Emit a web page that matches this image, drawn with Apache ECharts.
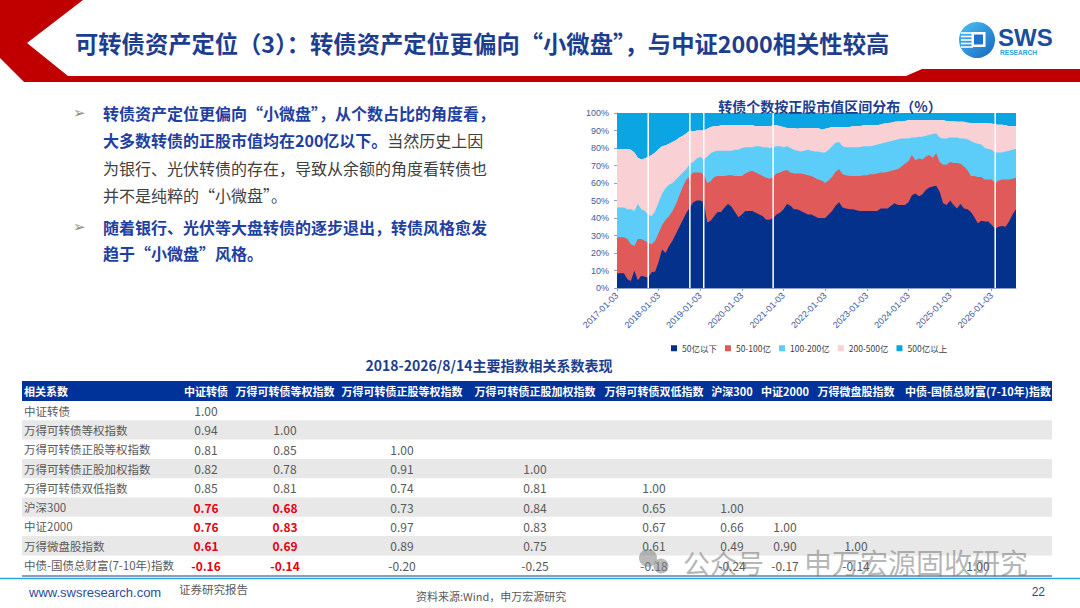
<!DOCTYPE html>
<html><head><meta charset="utf-8">
<script src="https://cdn.jsdelivr.net/npm/echarts@6/dist/echarts.min.js"></script>
<style>html,body{margin:0;padding:0;background:#fff;}#c{width:1080px;height:608px;}</style>
</head><body><div id="c"></div>
<script>
// ---------- chart data ----------
const dates = [
'2017-01-03','2017-02-03','2017-03-03','2017-04-03','2017-05-03','2017-06-03','2017-07-03','2017-08-03','2017-09-03','2017-10-03','2017-11-03','2017-12-03',
'2018-01-03','2018-02-03','2018-03-03','2018-04-03','2018-05-03','2018-06-03','2018-07-03','2018-08-03','2018-09-03','2018-10-03','2018-11-03','2018-12-03',
'2019-01-03','2019-02-03','2019-03-03','2019-04-03','2019-05-03','2019-06-03','2019-07-03','2019-08-03','2019-09-03','2019-10-03','2019-11-03','2019-12-03',
'2020-01-03','2020-02-03','2020-03-03','2020-04-03','2020-05-03','2020-06-03','2020-07-03','2020-08-03','2020-09-03','2020-10-03','2020-11-03','2020-12-03',
'2021-01-03','2021-02-03','2021-03-03','2021-04-03','2021-05-03','2021-06-03','2021-07-03','2021-08-03','2021-09-03','2021-10-03','2021-11-03','2021-12-03',
'2022-01-03','2022-02-03','2022-03-03','2022-04-03','2022-05-03','2022-06-03','2022-07-03','2022-08-03','2022-09-03','2022-10-03','2022-11-03','2022-12-03',
'2023-01-03','2023-02-03','2023-03-03','2023-04-03','2023-05-03','2023-06-03','2023-07-03','2023-08-03','2023-09-03','2023-10-03','2023-11-03','2023-12-03',
'2024-01-03','2024-02-03','2024-03-03','2024-04-03','2024-05-03','2024-06-03','2024-07-03','2024-08-03','2024-09-03','2024-10-03','2024-11-03','2024-12-03',
'2025-01-03','2025-02-03','2025-03-03','2025-04-03','2025-05-03','2025-06-03','2025-07-03','2025-08-03','2025-09-03','2025-10-03','2025-11-03','2025-12-03',
'2026-01-03','2026-02-03','2026-03-03','2026-04-03','2026-05-03','2026-06-03','2026-07-03','2026-08-14'];

// cumulative share (%) at the top of each band
const cumBelow50 = [8.5,8.5,8.5,5,4,10,4.5,7,6.5,6,9,9.5,
15,22,20,24,27,31,35,39,43,46,49,50,
50,49,37.5,38.5,41,43.5,43.5,46,48,46.5,43.5,40.5,
42,44,44,44,43,42,41,39,39,40,42,43,
45,48,47,45,45,44,43,42,42,41,40,40,
40,42,44,47,49,46,45.5,45,45,44.5,44,44,
44,44,44,44,45.5,45.5,45.5,47,48.5,47.5,47.5,47.5,
49,53,54,52.5,53.5,56,57.5,58,58.5,55,48.5,47.5,
50,47.5,45.5,48,45.5,45,43.5,40.5,37,38.5,38,38,
36,34,35,35.5,35,38,42,45];
const cumBelow100 = [29,29,29,28,25,24,28,28,27,26,25,27,
31.5,36,39,41,44,48,53,58,62,64,66,66,
66,65,60,61,63.5,64,64,64,64.5,64.5,64,64,
64,65.5,66.5,67,66,65,64,63,62.5,63.5,65.5,66,
67,67.5,66,65.5,65.5,65.5,65,64.5,64,63,62,61.5,
60,61.5,63.5,66.5,68,65,64.5,64,64,64,64,64.5,
64.5,65,65,65.5,66,66,66.5,67,67.5,68,69.5,71,
72.5,76,73,74,73.5,75,76,74.5,77,72,70.5,70.5,
72,71.5,71.5,71,69.5,67.5,64,64,63.5,63.5,62,62,
62,60,61.5,62,62,62,62.5,63];
const cumBelow200 = [46,46,46,45,45,44,48,45,44,42,41,44,
49,54,57,59,60,62,64,66,68,71,72,74,
75,73.5,75,77,78,78.5,78.5,78.5,78.5,78.5,79,79,
80,80.5,80.5,80.5,81,81,80.5,80.5,80,80.5,81,81,
80.5,81,80,79,78.5,78,78.5,79,78.5,78,78,77.5,
77.5,79,81,83,83.5,81,80.5,80.5,80.5,80.5,80.5,81,
81,81,81.5,82,82.5,83,83.5,84,84.5,85,85.5,85.5,
85.5,86,86,86.5,86.5,87,87.5,88,88.5,86,85.5,85.5,
86,86,86,85.5,85.5,85,84,83,82.5,82,80,79.5,
79,77.5,77.5,77.5,78,78.5,79,79.5];
const cumBelow500 = [79.5,79.5,79.5,79.5,79,77.5,74.5,73.5,74,75,76,77.5,
79.5,81,81.5,82.5,83.5,84.5,86,87,88.5,90,89.5,90,
90,90,91,92,92.5,92.5,93,93,93,93,93,93,
93,93,93,93,92.5,92.5,92.5,92.5,92.5,93,93,92.5,
92,91.5,91.5,91.5,91,91.5,91.5,91.5,91.5,91.5,91.5,90.5,
91,91.5,92,92,92,92,92,92,92.5,92.5,92.5,93,
93,93,93,93,93.5,94,94.3,94.5,95,95.2,95.2,95.5,
95.8,96,96,96,96,96,96,96,96,96,95.8,95.5,
95.2,95.2,95,95,95,94.5,94.3,94.3,94.3,94.3,94.3,94,
94,93.5,93.3,93.3,93,92.5,92.5,92.5];
const bandNames = ['50亿以下','50-100亿','100-200亿','200-500亿','500亿以上'];
const gapDates = ['2017-10-03','2018-10-03','2019-02-03','2020-10-03','2026-02-03'];

// ---------- table data ----------
const tableColumns = ['中证转债','万得可转债等权指数','万得可转债正股等权指数','万得可转债正股加权指数','万得可转债双低指数','沪深300','中证2000','万得微盘股指数','中债-国债总财富(7-10年)指数'];
const tableRows = ['中证转债','万得可转债等权指数','万得可转债正股等权指数','万得可转债正股加权指数','万得可转债双低指数','沪深300','中证2000','万得微盘股指数','中债-国债总财富(7-10年)指数'];
const corrValues = [
  [1.00],
  [0.94,1.00],
  [0.81,0.85,1.00],
  [0.82,0.78,0.91,1.00],
  [0.85,0.81,0.74,0.81,1.00],
  [0.76,0.68,0.73,0.84,0.65,1.00],
  [0.76,0.83,0.97,0.83,0.67,0.66,1.00],
  [0.61,0.69,0.89,0.75,0.61,0.49,0.90,1.00],
  [-0.16,-0.14,-0.20,-0.25,-0.18,-0.24,-0.17,-0.14,1.00]
];
const highlightCells = [[5,0],[5,1],[6,0],[6,1],[7,0],[7,1],[8,0],[8,1]];

// ---------- build ----------
const CJK = '"Noto Sans CJK SC","Noto Sans",sans-serif';
const NAVY = '#1D3E8E';
function T(x, y, text, s) {
  return {type:'text', x:x, y:y, silent:true, z:10,
    style:Object.assign({text:text, fill:'#404040', fontSize:12, fontFamily:CJK,
      textAlign:'left', textVerticalAlign:'middle', align:'left', verticalAlign:'middle'}, s||{})};
}
function R(x, y, w, h, fill, z) {
  return {type:'rect', silent:true, z:z||1, shape:{x:x,y:y,width:w,height:h}, style:{fill:fill}};
}
function L(x1,y1,x2,y2,stroke,w) {
  return {type:'line', silent:true, z:2, shape:{x1:x1,y1:y1,x2:x2,y2:y2}, style:{stroke:stroke,lineWidth:w}};
}
const g = [];
// header red band
g.push({type:'polygon', silent:true, z:1, shape:{points:[[0,0],[83,0],[27,43],[68,76],[906,76],[922,69],[1080,69],[1080,82],[24,82],[0,58]]}, style:{fill:'#C00000'}});
g.push(T(75, 43, '可转债资产定位（3）：转债资产定位更偏向“小微盘”，与中证2000相关性较高', {fill:NAVY, fontSize:23.3, fontWeight:'bold'}));
// logo
g.push({type:'circle', silent:true, z:2, shape:{cx:977, cy:40, r:18}, style:{fill:{type:'linear',x:0,y:0,x2:1,y2:1,colorStops:[{offset:0,color:'#4CC3F5'},{offset:1,color:'#1565C0'}]}}});
[33,36.5,40,43.5,47].forEach(function(yy){ g.push(L(961, yy, 973, yy, '#ffffff', 1.6)); });
g.push(R(971.5, 32, 14, 15, '#ffffff', 3));
g.push(R(974, 34.5, 9, 10, '#1E74CC', 4));
g.push(T(998, 37, 'SWS', {fill:'#1B4DA0', fontSize:24, fontWeight:'bold', fontFamily:'"Liberation Sans",Arial,sans-serif'}));
g.push(T(1000, 52.5, 'RESEARCH', {fill:'#29A3DC', fontSize:6.6, fontWeight:'bold', fontFamily:'"Liberation Sans",Arial,sans-serif'}));

// bullets
const BLUE_T = '#1E40A0';
g.push(T(73, 113, '➢', {fill:'#8C8C8C', fontSize:15, fontFamily:'"DejaVu Sans",sans-serif'}));
g.push(T(73, 227, '➢', {fill:'#8C8C8C', fontSize:15, fontFamily:'"DejaVu Sans",sans-serif'}));
g.push(T(103, 113, '转债资产定位更偏向“小微盘”，从个数占比的角度看，', {fill:BLUE_T, fontSize:16, fontWeight:'bold'}));
g.push({type:'text', x:103, y:140, silent:true, z:10, style:{text:'{b|大多数转债的正股市值均在200亿以下。}{n|当然历史上因}', textVerticalAlign:'middle', verticalAlign:'middle', fontFamily:CJK, fontSize:16,
  rich:{b:{fill:BLUE_T, color:BLUE_T, fontSize:16, fontWeight:'bold', fontFamily:CJK}, n:{fill:'#404040', color:'#404040', fontSize:16, fontFamily:CJK}}}});
g.push(T(103, 168, '为银行、光伏转债的存在，导致从余额的角度看转债也', {fill:'#404040', fontSize:16}));
g.push(T(103, 195, '并不是纯粹的“小微盘”。', {fill:'#404040', fontSize:16}));
g.push(T(103, 227, '随着银行、光伏等大盘转债的逐步退出，转债风格愈发', {fill:BLUE_T, fontSize:16, fontWeight:'bold'}));
g.push(T(103, 253, '趋于“小微盘”风格。', {fill:BLUE_T, fontSize:16, fontWeight:'bold'}));

// table
g.push(T(489, 365, '2018-2026/8/14主要指数相关系数表现', {fill:NAVY, fontSize:14, fontWeight:'bold', textAlign:'center', align:'center'}));
const colX = [206, 285, 402, 535, 654, 732, 785, 856, 978];
const tX = 22, tW = 1030, headY = 381, headH = 20, rowH = 19.3;
g.push(R(tX, headY, tW, headH, '#003399', 1));
g.push(T(24, headY + headH/2, '相关系数', {fill:'#ffffff', fontSize:11, fontWeight:'bold'}));
tableColumns.forEach(function(c, j){
  g.push(T(colX[j], headY + headH/2, c, {fill:'#ffffff', fontSize:11, fontWeight:'bold', textAlign:'center', align:'center'}));
});
const isHi = {};
highlightCells.forEach(function(p){ isHi[p[0]+'_'+p[1]] = true; });
tableRows.forEach(function(r, i){
  const y0 = headY + headH + i*rowH;
  if (i % 2 === 1) g.push(R(tX, y0, tW, rowH, '#E8E8E8', 1));
  g.push(T(24, y0 + rowH/2, r, {fill:'#595959', fontSize:11.5}));
  corrValues[i].forEach(function(v, j){
    const hi = isHi[i+'_'+j];
    g.push(T(colX[j], y0 + rowH/2, v.toFixed(2), {fill: hi ? '#E60012' : '#595959', fontSize:12, fontWeight: hi ? 'bold' : 'normal', textAlign:'center', align:'center'}));
  });
});
// bottom lines
g.push(L(22, 576, 1052, 576, '#1F3C88', 1.2));
g.push(L(0, 578.5, 1080, 578.5, '#2AA7DF', 1.5));
// watermark
g.push({type:'circle', silent:true, z:11, shape:{cx:648, cy:558, r:9}, style:{fill:'rgba(130,130,130,0.55)'}});
g.push({type:'circle', silent:true, z:11, shape:{cx:661, cy:566, r:7.5}, style:{fill:'rgba(130,130,130,0.55)'}});
g.push(T(683, 562, '公众号', {fill:'rgba(110,110,110,0.5)', fontSize:27}));
g.push(T(804, 562, '申万宏源固收研究', {fill:'rgba(110,110,110,0.5)', fontSize:28}));
// footer
g.push(T(29, 592, 'www.swsresearch.com', {fill:'#1F4E9A', fontSize:13, fontFamily:'"Liberation Sans",Arial,sans-serif'}));
g.push(T(179, 589, '证券研究报告', {fill:'#595959', fontSize:11.5}));
g.push(T(416, 596, '资料来源:Wind，申万宏源研究', {fill:'#595959', fontSize:11}));
g.push(T(1045, 592, '22', {fill:'#1F4E9A', fontSize:12, textAlign:'right', align:'right', fontFamily:'"Liberation Sans",Arial,sans-serif'}));

const colors = ['#03318C','#E05A5A','#5CCDF8','#F9D0D4','#0AA5E2'];
const cumArrays = [cumBelow50, cumBelow100, cumBelow200, cumBelow500, cumBelow500];
const series = bandNames.map(function(n, k){
  return {name:n, type:'line', data:cumArrays[k], symbol:'none', showSymbol:false,
    z: 10 - k, lineStyle:{width:0, opacity:0}, itemStyle:{color:colors[k]},
    areaStyle:{color:colors[k], opacity:1, origin: k === 4 ? 'end' : 'start'}, silent:true};
});
// white holiday gaps in the daily series, drawn as thin full-height bars
series.push({name:'gaps', type:'bar', z:20, silent:true, barWidth:1.5,
  itemStyle:{color:'#ffffff'},
  data: dates.map(function(d){ return gapDates.indexOf(d) >= 0 ? 100 : null; })});
const axisColor = '#3F5A9A';
const yearTick = function(i, v){ return v.slice(5) === '01-03'; };
const option = {
  animation:false,
  backgroundColor:'#ffffff',
  title:{text:'转债个数按正股市值区间分布（%）', left:825, top:94, textAlign:'center',
    textStyle:{fontSize:14, fontWeight:'bold', color:NAVY, fontFamily:CJK}},
  legend:{data:bandNames, left:666, top:339, icon:'rect', itemWidth:6, itemHeight:6, itemGap:8,
    textStyle:{fontSize:8.5, color:'#404040', fontFamily:CJK}},
  grid:{left:617, top:113, width:399, height:175, containLabel:false},
  xAxis:{type:'category', data:dates, boundaryGap:false,
    axisLine:{lineStyle:{color:'#8FA3C8'}},
    axisTick:{interval:yearTick, length:3, lineStyle:{color:'#8FA3C8'}},
    axisLabel:{interval:yearTick, rotate:45, fontSize:9, color:axisColor, margin:6, fontFamily:'"Liberation Sans",Arial,sans-serif'},
    splitLine:{show:false}},
  yAxis:{type:'value', min:0, max:100, interval:10,
    axisLine:{show:true, lineStyle:{color:'#8FA3C8'}},
    axisTick:{show:true, length:3, lineStyle:{color:'#8FA3C8'}},
    axisLabel:{formatter:'{value}%', fontSize:9, color:axisColor, fontFamily:'"Liberation Sans",Arial,sans-serif'},
    splitLine:{show:false}},
  series:series,
  graphic:{elements:g}
};
const chart = echarts.init(document.getElementById('c'), null, {renderer:'svg', width:1080, height:608});
chart.setOption(option);
</script>
</body></html>
